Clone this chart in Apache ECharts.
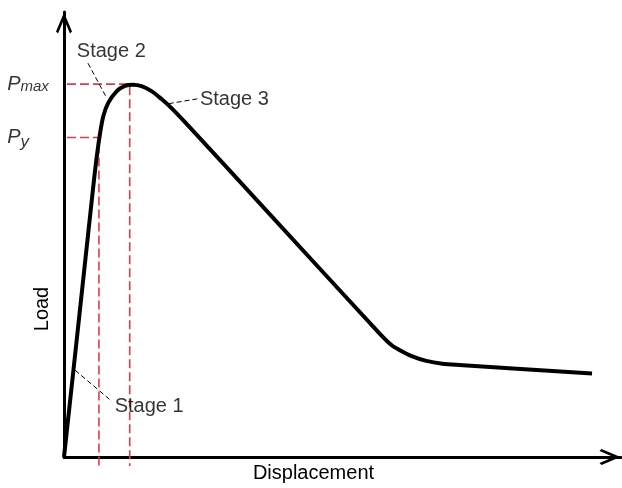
<!DOCTYPE html>
<html>
<head>
<meta charset="utf-8">
<script src="https://cdn.jsdelivr.net/npm/echarts@6/dist/echarts.min.js"></script>
<style>
  html, body { margin: 0; padding: 0; background: #fff; }
  #chart { width: 622px; height: 488px; }
</style>
</head>
<body>
<div id="chart"></div>
<script>
  // load-displacement curve (arbitrary units, 0-100 on both axes)
  var dispX = [0, 2.60, 5.20, 5.82, 6.36, 7.04, 7.94, 9.44, 10.93, 12.42, 13.92, 15.72, 17.51, 19.30, 21.68, 36.92, 56.63, 58.78, 60.22, 62.54, 65.05, 67.92, 70.97, 94.80];
  var loadY = [0, 29.98, 60.18, 66.89, 71.81, 76.51, 79.57, 82.17, 83.40, 83.67, 83.33, 82.21, 80.43, 78.41, 75.30, 54.59, 27.79, 25.17, 24.05, 22.60, 21.59, 20.96, 20.67, 18.79];

  // characteristic levels
  var pyLoad = 71.8, pyDisp = 6.27;
  var pmaxLoad = 83.8, pmaxDisp = 11.8;

  // stage leaders: [from, to]
  var stageNames = ['Stage 1', 'Stage 2', 'Stage 3'];
  var stageLeaders = [
    [[2.0, 19.5], [8.6, 12.5]],
    [[4.3, 88.5], [7.7, 80.6]],
    [[18.8, 79.4], [24.0, 80.5]]
  ];
  var stageLabelAt = [[9.1, 11.4], [2.3, 91.1], [24.4, 80.3]];

  var chart = echarts.init(document.getElementById('chart'))
  var font = 'Liberation Sans, Arial, sans-serif';
  var arrow = 'path://M8,0 L16,19 L14,21 L8,7 L2,21 L0,19 Z';
  var red = '#e63946';

  var curve = dispX.map(function (x, i) { return [x, loadY[i]] })

  var series = [{
    name: 'Py',
    type: 'line',
    clip: false,
    symbol: 'none',
    data: [[-1.8, pyLoad], [pyDisp, pyLoad], [pyDisp, -2]],
    lineStyle: { color: red, width: 1.6, type: [9, 4] },
    z: 1
  }, {
    name: 'Pmax',
    type: 'line',
    clip: false,
    symbol: 'none',
    data: [[-1.8, pmaxLoad], [pmaxDisp, pmaxLoad], [pmaxDisp, -2]],
    lineStyle: { color: red, width: 1.6, type: [9, 4] },
    z: 1
  }, {
    name: 'curve',
    type: 'line',
    smooth: 0.3,
    symbol: 'none',
    clip: false,
    data: curve,
    lineStyle: { color: '#000', width: 4, join: 'round' },
    z: 5
  }]

  stageLeaders.forEach(function (seg, i) {
    series.push({
      name: stageNames[i] + ' leader',
      type: 'line',
      symbol: 'none',
      clip: false,
      data: seg,
      lineStyle: { color: '#000', width: 1, type: [5, 3] },
      z: 3
    })
  })

  var notes = stageNames.map(function (n, i) {
    return { name: n, value: stageLabelAt[i] }
  })
  notes.push({ name: 'Pmax', value: [-10.2, pmaxLoad], label: { formatter: '{p|P}{s|max}' } })
  notes.push({ name: 'Py', value: [-10.2, pyLoad], label: { formatter: '{p|P}{y|y}' } })

  series.push({
    name: 'notes',
    type: 'scatter',
    clip: false,
    symbolSize: 0,
    data: notes,
    label: {
      show: true,
      position: 'right',
      distance: 0,
      color: '#000',
      fontFamily: font,
      fontSize: 20,
      formatter: '{b}',
      rich: {
        p: { fontSize: 20, fontStyle: 'italic', fontFamily: font, color: '#000' },
        s: { fontSize: 15, fontStyle: 'italic', fontFamily: font, color: '#000', padding: [6, 0, 0, 0] },
        y: { fontSize: 17, fontStyle: 'italic', fontFamily: font, color: '#000', padding: [9, 0, 0, 0] }
      }
    },
    z: 6
  })

  var option = {
    animation: false,
    backgroundColor: '#fff',
    grid: { left: 64, right: 1, top: 12, bottom: 29 },
    xAxis: {
      type: 'value',
      min: 0,
      max: 100,
      name: 'Displacement',
      nameLocation: 'middle',
      nameGap: 6,
      nameTextStyle: { color: '#000', fontSize: 20, fontFamily: font, padding: [0, 58, 0, 0] },
      axisLine: {
        lineStyle: { color: '#000', width: 3 },
        symbol: ['none', arrow],
        symbolSize: [16, 22],
        symbolOffset: [0, -11]
      },
      axisTick: { show: false },
      axisLabel: { show: false },
      splitLine: { show: false }
    },
    yAxis: {
      type: 'value',
      min: 0,
      max: 100,
      name: 'Load',
      nameLocation: 'middle',
      nameGap: 12,
      nameTextStyle: { color: '#000', fontSize: 20, fontFamily: font, padding: [0, 149, 0, 0] },
      axisLine: {
        show: true,
        lineStyle: { color: '#000', width: 3 },
        symbol: ['none', arrow],
        symbolSize: [16, 22],
        symbolOffset: [0, -11]
      },
      axisTick: { show: false },
      axisLabel: { show: false },
      splitLine: { show: false }
    },
    series: series
  }

  chart.setOption(option)
</script>
</body>
</html>
